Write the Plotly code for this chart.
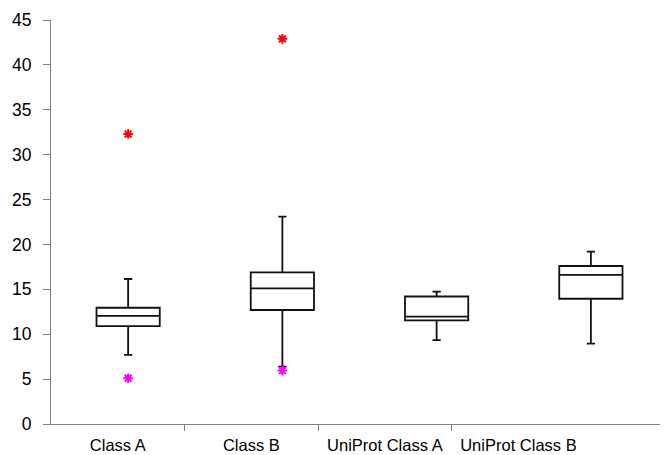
import plotly.graph_objects as go

categories = ["Class A", "Class B", "UniProt Class A", "UniProt Class B"]
lower_whisker = [7.7, 6.4, 9.35, 8.95]
q1 = [10.9, 12.7, 11.55, 13.95]
median = [12.05, 15.1, 11.95, 16.6]
q3 = [12.95, 16.9, 14.2, 17.6]
upper_whisker = [16.15, 23.1, 14.75, 19.2]

max_cats = ["Class A", "Class B"]
max_vals = [32.3, 42.9]
min_cats = ["Class A", "Class B"]
min_vals = [5.1, 5.95]

y_ticks = [0, 5, 10, 15, 20, 25, 30, 35, 40, 45]

xfont = dict(family="Liberation Sans, Arial, sans-serif", size=16.5, color="#000000")
yfont = dict(family="Liberation Sans, Arial, sans-serif", size=17.5, color="#000000")

fig = go.Figure()

for i, c in enumerate(categories):
    fig.add_trace(go.Box(
        x=[c], q1=[q1[i]], median=[median[i]], q3=[q3[i]],
        lowerfence=[lower_whisker[i]], upperfence=[upper_whisker[i]],
        xaxis="x2", yaxis="y",
        width=0.41, whiskerwidth=0.13,
        fillcolor="rgba(255,255,255,0)",
        line=dict(color="#111111", width=1.8),
        boxpoints=False, hoverinfo="skip", showlegend=False,
    ))

fig.add_trace(go.Scatter(
    x=max_cats, y=max_vals, mode="markers", xaxis="x2", yaxis="y",
    marker=dict(symbol="asterisk-open", size=8, color="#ff0000",
                line=dict(color="#ff0000", width=2)),
    showlegend=False,
))
fig.add_trace(go.Scatter(
    x=min_cats, y=min_vals, mode="markers", xaxis="x2", yaxis="y",
    marker=dict(symbol="asterisk-open", size=8, color="#ff00ff",
                line=dict(color="#ff00ff", width=2)),
    showlegend=False,
))
# label axis helper (invisible)
fig.add_trace(go.Scatter(x=[0, 3], y=[None, None], mode="markers", xaxis="x", yaxis="y",
                         marker=dict(opacity=0), showlegend=False, hoverinfo="skip"))

fig.update_layout(
    width=660, height=447,
    margin=dict(l=43, r=0, t=12, b=31),
    paper_bgcolor="white", plot_bgcolor="white",
    font=xfont,
    showlegend=False,
    xaxis=dict(
        range=[-0.5, 4.12], autorange=False,
        tickmode="array", tickvals=list(range(len(categories))), ticktext=categories,
        ticks="", showgrid=False, zeroline=False,
        showline=True, linecolor="#808080", linewidth=1.2,
        tickfont=xfont, ticklabelstandoff=6,
        minor=dict(tickmode="array", tickvals=[0.5, 1.5, 2.5], ticks="outside",
                   ticklen=6, tickcolor="#808080", tickwidth=1.2, showgrid=False),
    ),
    xaxis2=dict(
        type="category", categoryorder="array", categoryarray=categories,
        range=[-0.5, 3.5], autorange=False,
        overlaying="x", visible=False,
    ),
    yaxis=dict(
        range=[0, 45], autorange=False,
        tickmode="array", tickvals=y_ticks,
        ticks="outside", ticklen=7, tickcolor="#808080", tickwidth=1.2,
        showgrid=False, zeroline=False,
        showline=True, linecolor="#808080", linewidth=1.2,
        tickfont=yfont, ticklabelstandoff=8,
    ),
)

fig.write_html("out.html")
